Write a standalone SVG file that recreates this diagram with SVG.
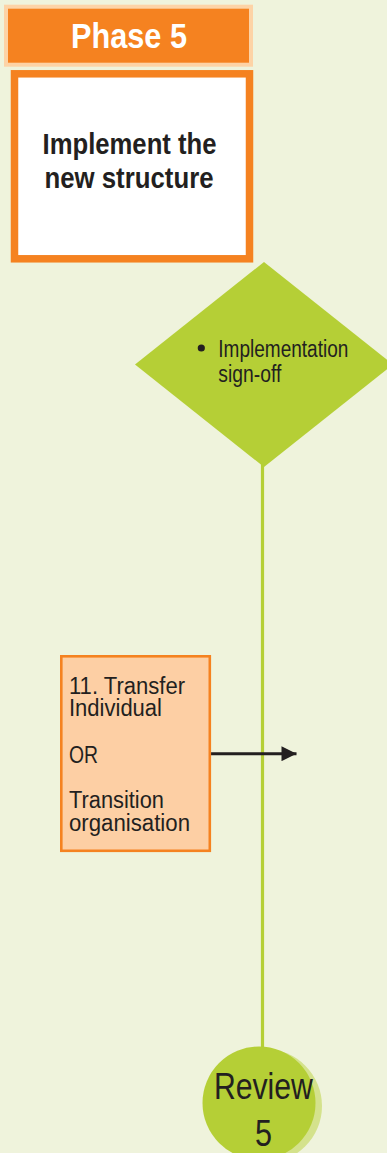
<svg xmlns="http://www.w3.org/2000/svg" width="387" height="1153" viewBox="0 0 387 1153">
  <defs>
    <style>
      .txt { font-family: "Liberation Sans", Arial, sans-serif; fill: #231f20; }
      .bold { font-weight: bold; }
      .green { fill: #b5cf36; }
      .conn { stroke: #231f20; stroke-width: 3; fill: none; }
      .flow { stroke: #b5cf36; stroke-width: 3.2; fill: none; }
    </style>
    <marker id="arrow" viewBox="0 0 10 10" refX="10" refY="5" markerWidth="5.5" markerHeight="5" markerUnits="strokeWidth" orient="auto">
      <path d="M0,0 L10,5 L0,10 Z" fill="#231f20"/>
    </marker>
  </defs>

  <!-- page background -->
  <rect x="0" y="0" width="387" height="1153" fill="#eff3dc"/>

  <!-- connectors -->
  <g id="connectors">
    <line class="flow" x1="262.5" y1="460" x2="262.5" y2="1060"/>
    <line class="conn" x1="211" y1="753.7" x2="296.5" y2="753.7" marker-end="url(#arrow)"/>
  </g>

  <!-- phase header -->
  <g id="phase-header">
    <rect x="6" y="6.7" width="245" height="58" fill="#f58220" stroke="#fdd3a6" stroke-width="4"/>
    <text class="txt bold" x="129" y="48" font-size="35" text-anchor="middle" style="fill:#ffffff" textLength="116" lengthAdjust="spacingAndGlyphs">Phase 5</text>
  </g>

  <!-- phase title box -->
  <g id="phase-title">
    <rect x="14.5" y="73.8" width="235" height="185" fill="#ffffff" stroke="#f58220" stroke-width="7.5"/>
    <text class="txt bold" x="129.5" y="153.5" font-size="29.5" text-anchor="middle" textLength="174" lengthAdjust="spacingAndGlyphs">Implement the</text>
    <text class="txt bold" x="129" y="187.5" font-size="29.5" text-anchor="middle" textLength="169" lengthAdjust="spacingAndGlyphs">new structure</text>
  </g>

  <!-- decision point -->
  <g id="sign-off">
    <polygon class="green" points="264,262 393,364.5 264,467 135,364.5"/>
    <circle cx="201.3" cy="348" r="3.6" fill="#231f20"/>
    <text class="txt" x="218.3" y="356.7" font-size="23" textLength="130" lengthAdjust="spacingAndGlyphs">Implementation</text>
    <text class="txt" x="218.3" y="381.7" font-size="23" textLength="63" lengthAdjust="spacingAndGlyphs">sign-off</text>
  </g>

  <!-- step 11 -->
  <g id="step-11">
    <rect x="61.3" y="656.3" width="148.5" height="194.5" fill="#fdcfa4" stroke="#f58220" stroke-width="2.6"/>
    <text class="txt" font-size="23">
      <tspan x="69" y="693.5" textLength="116" lengthAdjust="spacingAndGlyphs">11. Transfer</tspan>
      <tspan x="69" y="716" textLength="93" lengthAdjust="spacingAndGlyphs">Individual</tspan>
      <tspan x="69" y="762.5" textLength="29" lengthAdjust="spacingAndGlyphs">OR</tspan>
      <tspan x="69" y="807.5" textLength="95" lengthAdjust="spacingAndGlyphs">Transition</tspan>
      <tspan x="69" y="830.5" textLength="121" lengthAdjust="spacingAndGlyphs">organisation</tspan>
    </text>
  </g>

  <!-- review milestone -->
  <g id="review-5">
    <circle cx="265" cy="1106" r="57" fill="#d4e28c"/>
    <circle cx="259" cy="1103" r="56.5" class="green"/>
    <text class="txt" x="263.4" y="1099.3" font-size="37" text-anchor="middle" textLength="99" lengthAdjust="spacingAndGlyphs">Review</text>
    <text class="txt" x="263.4" y="1146" font-size="37" text-anchor="middle" textLength="17" lengthAdjust="spacingAndGlyphs">5</text>
  </g>
</svg>
